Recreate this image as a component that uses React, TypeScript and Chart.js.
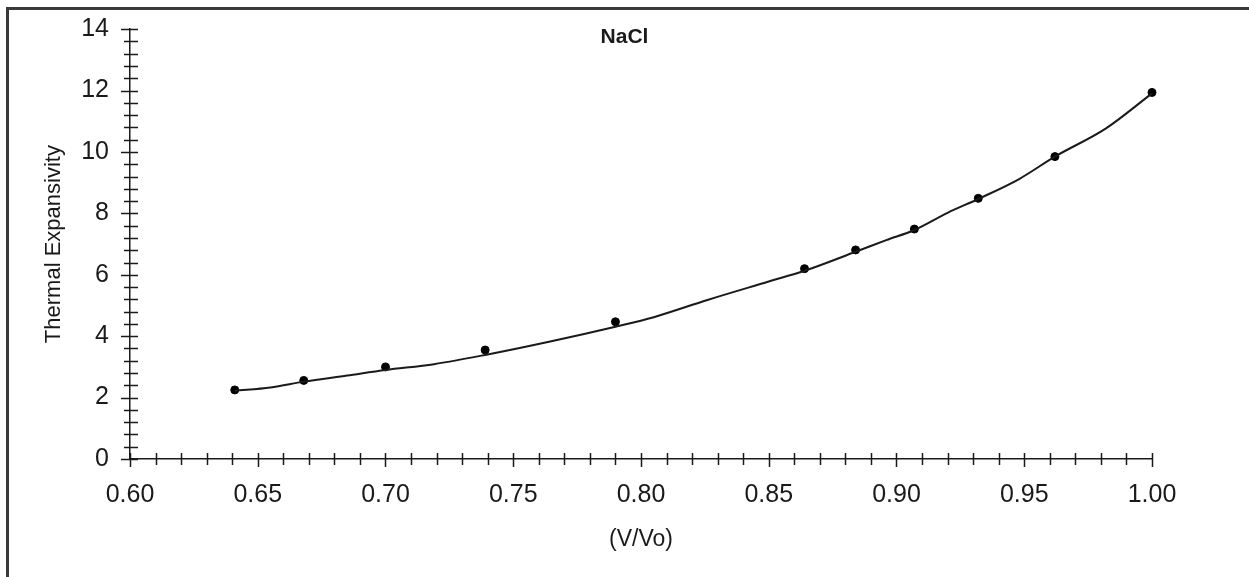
import React, { useEffect, useRef } from "react";
import { Chart, registerables } from "chart.js";

Chart.register(...registerables);

// Measured points (V/Vo, thermal expansivity)
const sampleX = [0.641, 0.668, 0.7, 0.739, 0.79, 0.864, 0.884, 0.907, 0.932, 0.962, 1.0];
const sampleY = [2.25, 2.56, 3.0, 3.55, 4.47, 6.2, 6.81, 7.49, 8.49, 9.85, 11.94];

// Fitted curve
const fitX = [0.641, 0.655, 0.668, 0.685, 0.7, 0.719, 0.739, 0.764, 0.79, 0.805, 0.826, 0.85, 0.864, 0.884, 0.896, 0.907, 0.92, 0.932, 0.948, 0.962, 0.982, 1.0];
const fitY = [2.22, 2.33, 2.52, 2.72, 2.9, 3.09, 3.39, 3.82, 4.31, 4.62, 5.18, 5.78, 6.13, 6.75, 7.13, 7.46, 8.02, 8.47, 9.12, 9.85, 10.77, 11.91];

// Axis ticks
const xMajorTicks = [0.6, 0.65, 0.7, 0.75, 0.8, 0.85, 0.9, 0.95, 1.0];
const yMajorTicks = [0, 2, 4, 6, 8, 10, 12, 14];
const xMinorStep = 0.01;
const yMinorStep = 0.4;

const FONT = "'Liberation Sans', Arial, Helvetica, sans-serif";
const INK = "#1a1a1a";

const crossTicks = {
  id: "crossTicks",
  afterDraw(chart: any) {
    const { ctx } = chart;
    const xs = chart.scales.x;
    const ys = chart.scales.y;
    const axisY = ys.getPixelForValue(0);
    const axisX = xs.getPixelForValue(xs.min);
    ctx.save();
    ctx.strokeStyle = INK;
    ctx.lineWidth = 1.5;
    ctx.beginPath();
    const nx = Math.round((xs.max - xs.min) / xMinorStep);
    for (let i = 0; i <= nx; i++) {
      const v = xs.min + i * xMinorStep;
      const major = xMajorTicks.some((t) => Math.abs(t - v) < 1e-6);
      const px = Math.round(xs.getPixelForValue(v)) + 0.5;
      ctx.moveTo(px, axisY - 6);
      ctx.lineTo(px, axisY + (major ? 8 : 6));
    }
    const ny = Math.round((ys.max - ys.min) / yMinorStep);
    for (let i = 0; i <= ny; i++) {
      const v = ys.min + i * yMinorStep;
      const py = Math.round(ys.getPixelForValue(v)) + 0.5;
      ctx.moveTo(axisX - 6, py);
      ctx.lineTo(axisX + 8, py);
    }
    for (const v of yMajorTicks) {
      const py = Math.round(ys.getPixelForValue(v)) + 0.5;
      ctx.moveTo(axisX - 9, py);
      ctx.lineTo(axisX + 8, py);
    }
    ctx.stroke();
    ctx.restore();
  },
};

export default function App() {
  const ref = useRef<HTMLCanvasElement | null>(null);

  useEffect(() => {
    if (!ref.current) return;
    const chart = new Chart(ref.current, {
      type: "scatter",
      data: {
        datasets: [
          {
            type: "line",
            label: "fit",
            data: fitX.map((x, i) => ({ x, y: fitY[i] })),
            borderColor: INK,
            borderWidth: 2,
            pointRadius: 0,
            cubicInterpolationMode: "monotone",
            fill: false,
            clip: false,
          } as any,
          {
            type: "scatter",
            label: "data",
            data: sampleX.map((x, i) => ({ x, y: sampleY[i] })),
            backgroundColor: "#000",
            borderColor: "#000",
            pointRadius: 4,
            pointHoverRadius: 4,
            clip: false,
          } as any,
        ],
      },
      options: {
        animation: false,
        responsive: false,
        maintainAspectRatio: false,
        layout: { padding: 0 },
        plugins: {
          legend: { display: false },
          tooltip: { enabled: false },
          title: {
            display: true,
            text: "NaCl",
            color: INK,
            font: { family: FONT, size: 21, weight: "bold", lineHeight: 1.2 },
            padding: { top: 25, bottom: -21 },
          },
        },
        scales: {
          x: {
            type: "linear",
            min: 0.6,
            max: 1.0,
            grid: { display: false, drawTicks: false },
            border: { display: true, color: INK, width: 1.5 },
            ticks: {
              stepSize: 0.05,
              autoSkip: false,
              maxRotation: 0,
              padding: 21.5,
              color: INK,
              font: { family: FONT, size: 25 },
              callback: (v: any) => Number(v).toFixed(2),
            },
            title: {
              display: true,
              text: "(V/Vo)",
              color: INK,
              font: { family: FONT, size: 23, lineHeight: 1.2 },
              padding: { top: 0, bottom: 24 },
            },
            afterFit: (s: any) => {
              s.height = 118;
              s.paddingLeft = 0;
              s.paddingRight = 0;
            },
          },
          y: {
            type: "linear",
            min: 0,
            max: 14,
            grid: { display: false, drawTicks: false },
            border: { display: true, color: INK, width: 1.5 },
            ticks: {
              stepSize: 2,
              autoSkip: false,
              padding: 21,
              color: INK,
              font: { family: FONT, size: 25 },
            },
            title: {
              display: true,
              text: "Thermal Expansivity",
              color: INK,
              font: { family: FONT, size: 22, lineHeight: 1.2 },
              padding: { top: 41, bottom: 0 },
            },
            afterFit: (s: any) => {
              s.width = 130;
              s.paddingTop = 0;
              s.paddingBottom = 0;
            },
          },
          yRightSpace: {
            type: "linear",
            position: "right",
            display: true,
            grid: { display: false, drawTicks: false },
            border: { display: false },
            ticks: { display: false },
            afterFit: (s: any) => {
              s.width = 97;
              s.paddingTop = 0;
              s.paddingBottom = 0;
            },
          },
        },
      } as any,
      plugins: [crossTicks],
    });
    return () => chart.destroy();
  }, []);

  return (
    <div style={{ position: "absolute", left: 0, top: 0, width: 1249, height: 577, background: "#fff", overflow: "hidden" }}>
      <canvas ref={ref} width={1249} height={577} style={{ position: "absolute", left: 0, top: 0, width: 1249, height: 577 }} />
      <div
        style={{
          position: "absolute",
          left: 6,
          top: 7,
          width: 1243,
          height: 570,
          boxSizing: "border-box",
          borderTop: "3px solid #3a3a3a",
          borderLeft: "3px solid #3a3a3a",
          pointerEvents: "none",
        }}
      />
    </div>
  );
}
